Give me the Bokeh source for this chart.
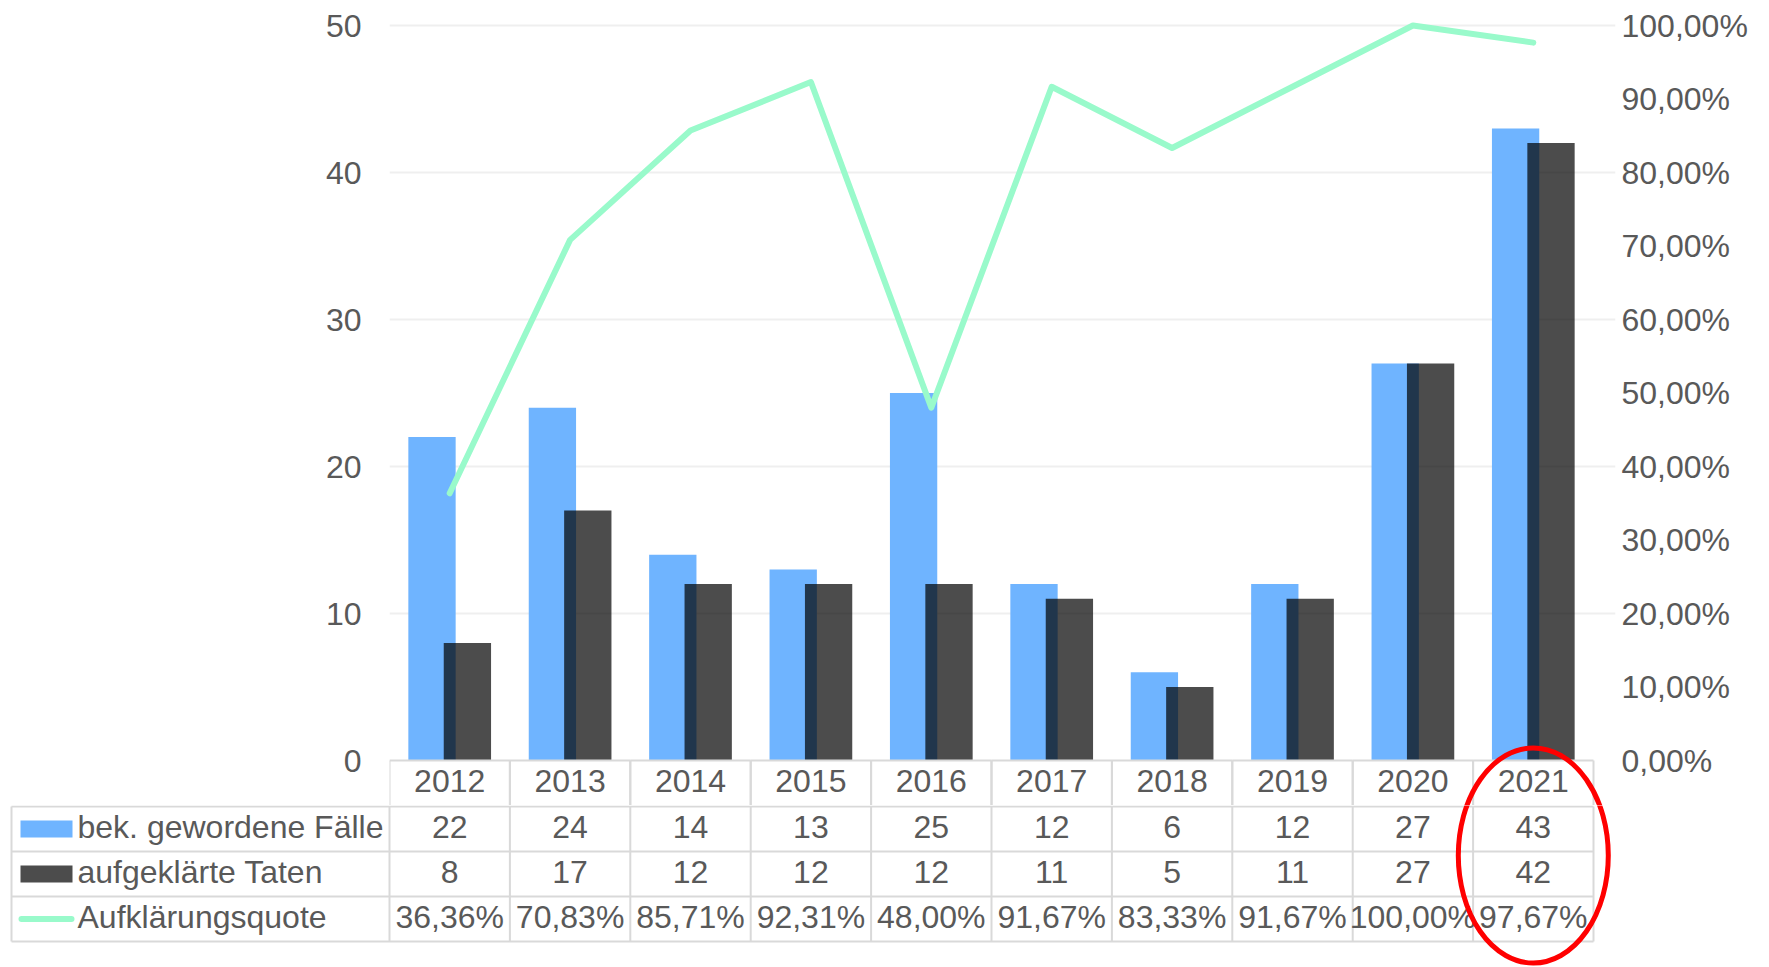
from bokeh.plotting import figure
from bokeh.models import Range1d, LinearAxis, FixedTicker, ColumnDataSource
from bokeh.transform import dodge
from bokeh.layouts import column
from bokeh.core.properties import value
from bokeh.embed import file_html
from bokeh.resources import INLINE

# ---------------- data ----------------
years = ["2012", "2013", "2014", "2015", "2016", "2017", "2018", "2019", "2020", "2021"]
bekannt = [22, 24, 14, 13, 25, 12, 6, 12, 27, 43]
aufgeklaert = [8, 17, 12, 12, 12, 11, 5, 11, 27, 42]
quote = [36.36, 70.83, 85.71, 92.31, 48.00, 91.67, 83.33, 91.67, 100.00, 97.67]
series_names = ["bek. gewordene Fälle", "aufgeklärte Taten", "Aufklärungsquote"]
left_ticks = [0, 10, 20, 30, 40, 50]
right_ticks = [0, 10, 20, 30, 40, 50, 60, 70, 80, 90, 100]
right_tick_labels = ["0,00%", "10,00%", "20,00%", "30,00%", "40,00%", "50,00%",
                     "60,00%", "70,00%", "80,00%", "90,00%", "100,00%"]
highlight_year = "2021"

quote_labels = [f"{q:.2f}".replace(".", ",") + "%" for q in quote]

# ---------------- style ----------------
FONT = "Liberation Sans"
FS = "32px"
TXT = "#595959"
BLUE = "#6FB4FF"
GREEN = "#99FACB"
GRID = "#EFEFEF"
BORDER = "#D9D9D9"
RED = "#FF0000"

W, H = 1769, 967
LEFT, RIGHT, TOP = 389, 176, 15
EXT = 22                      # extra frame room on the right (for the red ellipse)
Y0_PX, Y50_PX = 760, 25
HEAD_BOTTOM = 805
ROW_H = 45
PPU_Y = (Y0_PX - Y50_PX) / 50.0
N = len(years)
PPU_X = (W - LEFT - RIGHT) / N
TABLE_LEFT_PX = 11
TEXT_LIFT_PX = 2

ELL_CY_PX, ELL_W_PX, ELL_H_PX = 855, 150, 215

xc = [i + 0.5 for i in range(N)]     # category centres on the numeric x scale
hx = xc[years.index(highlight_year)]
src = ColumnDataSource(dict(year=years, xc=xc, bek=bekannt, auf=aufgeklaert, quote=quote))

# ---------------- top: chart + header row ----------------
top = figure(width=W, height=HEAD_BOTTOM,
             x_range=Range1d(0, N + EXT / PPU_X),
             y_range=Range1d(-(HEAD_BOTTOM - Y0_PX) / PPU_Y, 50 + (Y50_PX - TOP) / PPU_Y),
             x_axis_location=None, toolbar_location=None, output_backend="svg",
             min_border_left=LEFT, min_border_right=RIGHT - EXT, min_border_top=TOP,
             min_border_bottom=0)
top.outline_line_color = None
top.xgrid.grid_line_color = None
top.ygrid.ticker = FixedTicker(ticks=left_ticks[1:])
top.ygrid.grid_line_color = GRID
top.ygrid.grid_line_width = 2
top.ygrid.bounds = (0, N)

top.extra_y_ranges = {"pct": Range1d(-(HEAD_BOTTOM - Y0_PX) / (PPU_Y / 2),
                                     100 + (Y50_PX - TOP) / (PPU_Y / 2))}

yl = top.yaxis[0]
yl.ticker = FixedTicker(ticks=left_ticks)
yr = LinearAxis(y_range_name="pct", ticker=FixedTicker(ticks=right_ticks),
                major_label_overrides={t: l for t, l in zip(right_ticks, right_tick_labels)})
top.add_layout(yr, "right")
for ax in (yl, yr):
    ax.axis_line_color = None
    ax.major_tick_line_color = None
    ax.minor_tick_line_color = None
    ax.major_tick_out = 0
    ax.major_tick_in = 0
    ax.major_label_text_font = FONT
    ax.major_label_text_font_size = FS
    ax.major_label_text_color = TXT
yl.major_label_standoff = 28
yr.major_label_standoff = 28 - EXT

top.vbar(x=dodge("xc", -0.147), top="bek", width=0.393, bottom=0,
         source=src, fill_color=BLUE, line_color=None)
top.vbar(x=dodge("xc", 0.147), top="auf", width=0.393, bottom=0,
         source=src, fill_color="black", fill_alpha=0.7, line_color=None)
top.line(x="xc", y="quote", y_range_name="pct", source=src, line_color=GREEN,
         line_width=6, line_cap="round", line_join="round")

# header row of the data table
top.segment(x0=dodge("xc", -0.5), x1=dodge("xc", 0.5), y0=0, y1=0, source=src,
            line_color=BORDER, line_width=2)
for off in (-0.5, 0.5):
    top.segment(x0=dodge("xc", off), x1=dodge("xc", off), y0=0, y1=-10, source=src,
                line_color=BORDER, line_width=2)
top.text(x="xc", y=-((22.5 - TEXT_LIFT_PX) / PPU_Y), text="year", source=src,
         text_font=value(FONT), text_font_size=value(FS), text_color=TXT,
         text_align="center", text_baseline="middle")

top.ellipse(x=[hx], y=[-(ELL_CY_PX - Y0_PX) / PPU_Y],
            width=ELL_W_PX / PPU_X, height=ELL_H_PX / PPU_Y,
            fill_color=None, line_color=RED, line_width=5)

# ---------------- bottom: table rows ----------------
BH = H - HEAD_BOTTOM
BL = TABLE_LEFT_PX - 2
bot = figure(width=W, height=BH,
             x_range=Range1d(-(LEFT - BL) / PPU_X, N + EXT / PPU_X),
             y_range=Range1d(-(BH - 1) / ROW_H, 1 / ROW_H),
             toolbar_location=None, output_backend="svg",
             min_border_left=BL, min_border_right=RIGHT - EXT,
             min_border_top=0, min_border_bottom=0,
             x_axis_location=None, y_axis_location=None)
bot.outline_line_color = None
bot.grid.grid_line_color = None

tleft = -(LEFT - TABLE_LEFT_PX) / PPU_X
lift = TEXT_LIFT_PX / ROW_H

# borders
bot.segment(x0=[tleft] * 4, x1=[N] * 4, y0=[0, -1, -2, -3], y1=[0, -1, -2, -3],
            line_color=BORDER, line_width=2)
vx = [tleft] + list(range(N + 1))
bot.segment(x0=vx, x1=vx, y0=[0] * len(vx), y1=[-3] * len(vx), line_color=BORDER, line_width=2)

rows = [[str(v) for v in bekannt], [str(v) for v in aufgeklaert], quote_labels]
for r, labels in enumerate(rows):
    bot.text(x=xc, y=[-(r + 0.5) + lift] * N, text=labels,
             text_font=value(FONT), text_font_size=value(FS), text_color=TXT,
             text_align="center", text_baseline="middle")

# legend column
sw_x = (46 - LEFT) / PPU_X
bot.rect(x=[sw_x], y=[-0.5], width=52 / PPU_X, height=17 / ROW_H,
         fill_color=BLUE, line_color=None)
bot.rect(x=[sw_x], y=[-1.5], width=52 / PPU_X, height=17 / ROW_H,
         fill_color="black", fill_alpha=0.7, line_color=None)
bot.line(x=[(21 - LEFT) / PPU_X, (71 - LEFT) / PPU_X], y=[-2.5, -2.5],
         line_color=GREEN, line_width=6, line_cap="round")
bot.text(x=[(77 - LEFT) / PPU_X] * 3, y=[-0.5 + lift, -1.5 + lift, -2.5 + lift], text=series_names,
         text_font=value(FONT), text_font_size=value(FS), text_color=TXT,
         text_align="left", text_baseline="middle")

bot.ellipse(x=[hx], y=[-(ELL_CY_PX - HEAD_BOTTOM - 1) / ROW_H],
            width=ELL_W_PX / PPU_X, height=ELL_H_PX / ROW_H,
            fill_color=None, line_color=RED, line_width=5)

if hasattr(top, "frame_align"):
    top.frame_align = False
    bot.frame_align = False
    layout = column(top, bot, spacing=0)
else:
    layout = [top, bot]

open("out.html", "w").write(file_html(layout, INLINE))
